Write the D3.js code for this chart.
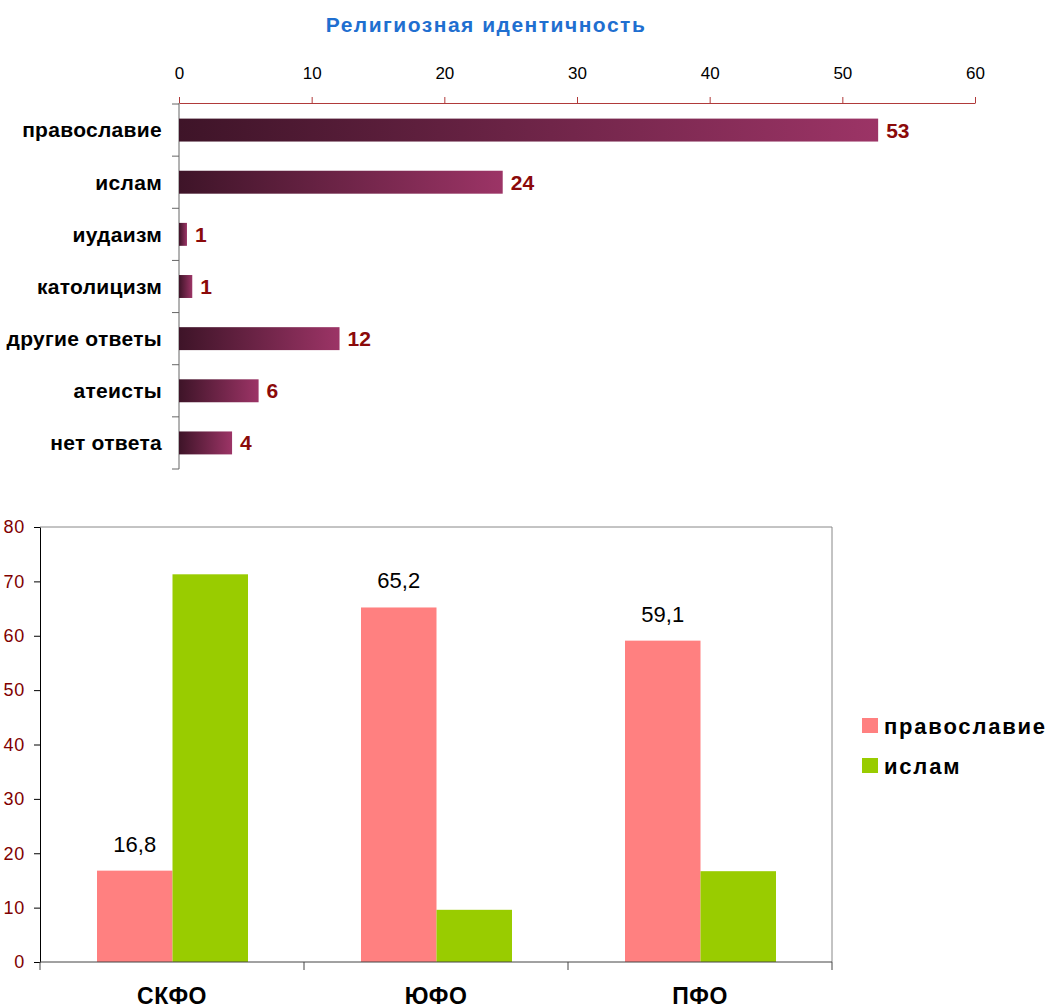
<!DOCTYPE html>
<html>
<head>
<meta charset="utf-8">
<script src="https://cdn.jsdelivr.net/npm/d3@7"></script>
<style>
    body { margin: 0; background: #fff; }
    svg { display: block; font-family: Arial, "Liberation Sans", sans-serif; }
</style>
</head>
<body>
<svg width="1047" height="1007"></svg>
<script>
// top chart data
const religions = ['православие', 'ислам', 'иудаизм', 'католицизм', 'другие ответы', 'атеисты', 'нет ответа'];
const religionValues = [52.7, 24.4, 0.6, 1, 12.1, 6, 4];
const religionLabels = ['53', '24', '1', '1', '12', '6', '4'];
const topTicks = [0, 10, 20, 30, 40, 50, 60];

// bottom chart data
const regions = ['СКФО', 'ЮФО', 'ПФО'];
const seriesNames = ['православие', 'ислам'];
const orthodoxValues = [16.8, 65.2, 59.1];
const islamValues = [71.3, 9.6, 16.7];
const orthodoxLabels = ['16,8', '65,2', '59,1'];
const bottomTicks = [0, 10, 20, 30, 40, 50, 60, 70, 80];
const seriesColors = ['#ff8080', '#99cc00'];

(function () {
    const svg = d3.select('svg');

    // ---------- top chart ----------
    const defs = svg.append('defs');
    const grad = defs.append('linearGradient')
            .attr('id', 'barGrad')
            .attr('x1', '0%').attr('x2', '100%')
            .attr('y1', '0%').attr('y2', '0%');
    grad.append('stop').attr('offset', '0%').attr('stop-color', '#3e1428');
    grad.append('stop').attr('offset', '100%').attr('stop-color', '#9c3466');

    svg.append('text')
            .attr('x', 486)
            .attr('y', 32)
            .attr('text-anchor', 'middle')
            .attr('font-size', 21)
            .attr('font-weight', 'bold')
            .attr('letter-spacing', 1.5)
            .attr('fill', '#1f6fd0')
            .text('Религиозная идентичность');

    const x = d3.scaleLinear().domain([0, 60]).range([179, 975]);
    const y = d3.scaleBand()
            .domain(religions)
            .range([104, 469])
            .paddingInner(0.56)
            .paddingOuter(0.28);

    const topAxis = svg.append('g')
            .attr('transform', 'translate(0,103)')
            .call(d3.axisTop(x).tickValues(topTicks).tickSizeInner(6).tickSizeOuter(0));
    topAxis.select('.domain').attr('stroke', '#b03a3a');
    topAxis.selectAll('.tick line').attr('stroke', '#b03a3a');
    topAxis.selectAll('.tick text')
            .attr('y', -24)
            .attr('dy', 0)
            .attr('font-size', 17)
            .attr('font-family', 'Arial, "Liberation Sans", sans-serif')
            .attr('fill', '#000');

    // left axis line with ticks on band boundaries
    const step = y.step();
    const bounds = religions.map(d => y(d) - step * 0.28).concat([y(religions[religions.length - 1]) - step * 0.28 + step]);
    svg.append('line')
            .attr('x1', 179).attr('x2', 179)
            .attr('y1', 103).attr('y2', bounds[bounds.length - 1])
            .attr('stroke', '#666');
    svg.append('g').selectAll('line')
            .data(bounds)
            .enter().append('line')
            .attr('x1', 172).attr('x2', 179)
            .attr('y1', d => d).attr('y2', d => d)
            .attr('stroke', '#666');

    svg.append('g').selectAll('rect')
            .data(religions)
            .enter().append('rect')
            .attr('x', x(0))
            .attr('y', d => y(d))
            .attr('width', (d, i) => x(religionValues[i]) - x(0))
            .attr('height', y.bandwidth())
            .attr('fill', 'url(#barGrad)');

    svg.append('g').selectAll('text')
            .data(religions)
            .enter().append('text')
            .attr('x', 162)
            .attr('y', d => y(d) + y.bandwidth() / 2)
            .attr('dy', '0.35em')
            .attr('text-anchor', 'end')
            .attr('font-size', 21)
            .attr('font-weight', 'bold')
            .attr('letter-spacing', 0.3)
            .attr('fill', '#000')
            .text(d => d);

    svg.append('g').selectAll('text')
            .data(religions)
            .enter().append('text')
            .attr('x', (d, i) => x(religionValues[i]) + 8)
            .attr('y', d => y(d) + y.bandwidth() / 2)
            .attr('dy', '0.36em')
            .attr('font-size', 21)
            .attr('font-weight', 'bold')
            .attr('fill', '#8b0a0a')
            .text((d, i) => religionLabels[i]);

    // ---------- bottom chart ----------
    const left = 40, right = 832, top = 527, bottom = 962;
    const yb = d3.scaleLinear().domain([0, 80]).range([bottom, top]);
    const x0 = d3.scaleBand().domain(regions).range([left, right]);
    const x1 = d3.scaleBand().domain(seriesNames).range([57, 208]);

    // frame
    svg.append('line')
            .attr('x1', left).attr('x2', right)
            .attr('y1', top).attr('y2', top)
            .attr('stroke', '#888');
    svg.append('line')
            .attr('x1', right).attr('x2', right)
            .attr('y1', top).attr('y2', bottom)
            .attr('stroke', '#888');

    const groups = svg.append('g').selectAll('g')
            .data(regions)
            .enter().append('g')
            .attr('transform', d => `translate(${x0(d)},0)`);

    const values = [orthodoxValues, islamValues];
    groups.selectAll('rect')
            .data((d, i) => seriesNames.map((s, j) => ({ s, v: values[j][i] })))
            .enter().append('rect')
            .attr('x', d => x1(d.s))
            .attr('y', d => yb(d.v))
            .attr('width', x1.bandwidth())
            .attr('height', d => yb(0) - yb(d.v))
            .attr('fill', (d, j) => seriesColors[j]);

    groups.append('text')
            .attr('x', x1(seriesNames[0]) + x1.bandwidth() / 2)
            .attr('y', (d, i) => yb(orthodoxValues[i]) - 19)
            .attr('text-anchor', 'middle')
            .attr('font-size', 22)
            .attr('fill', '#000')
            .text((d, i) => orthodoxLabels[i]);

    const yAxis = svg.append('g')
            .attr('transform', `translate(${left},0)`)
            .call(d3.axisLeft(yb).tickValues(bottomTicks).tickSizeInner(6).tickSizeOuter(0));
    yAxis.select('.domain').attr('stroke', '#000');
    yAxis.selectAll('.tick line').attr('stroke', '#000');
    yAxis.selectAll('.tick text')
            .attr('x', -15)
            .attr('font-size', 18)
            .attr('letter-spacing', 0.8)
            .attr('font-family', 'Arial, "Liberation Sans", sans-serif')
            .attr('fill', '#800000');

    // bottom axis with ticks on band boundaries
    svg.append('line')
            .attr('x1', left).attr('x2', right)
            .attr('y1', bottom).attr('y2', bottom)
            .attr('stroke', '#444');
    svg.append('g').selectAll('line')
            .data(regions.map(d => x0(d)).concat([x0(regions[regions.length - 1]) + x0.bandwidth()]))
            .enter().append('line')
            .attr('x1', d => d).attr('x2', d => d)
            .attr('y1', bottom).attr('y2', bottom + 8)
            .attr('stroke', '#444');

    svg.append('g').selectAll('text')
            .data(regions)
            .enter().append('text')
            .attr('x', d => x0(d) + x0.bandwidth() / 2)
            .attr('y', 1004)
            .attr('text-anchor', 'middle')
            .attr('font-size', 23)
            .attr('font-weight', 'bold')
            .attr('letter-spacing', 0.5)
            .attr('fill', '#000')
            .text(d => d);

    // legend
    const legend = svg.append('g').selectAll('g')
            .data(seriesNames)
            .enter().append('g')
            .attr('transform', (d, i) => `translate(862,${718 + i * 40})`);
    legend.append('rect')
            .attr('width', 16).attr('height', 15)
            .attr('fill', (d, i) => seriesColors[i]);
    legend.append('text')
            .attr('x', 22)
            .attr('y', 8)
            .attr('dy', '0.35em')
            .attr('font-size', 22)
            .attr('font-weight', 'bold')
            .attr('letter-spacing', 1.8)
            .attr('fill', '#000')
            .text(d => d);
})();
</script>
</body>
</html>
